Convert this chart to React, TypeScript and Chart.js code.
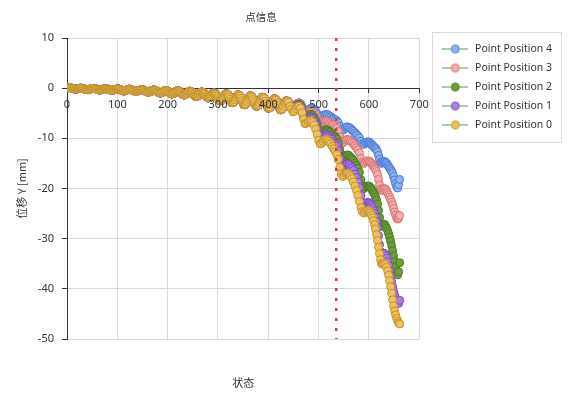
import React, { useEffect, useRef } from 'react';
import { Chart, registerables } from 'chart.js';

Chart.register(...registerables);

// ---------- data ----------
const statesEarly = [
  0, 2, 4, 6, 8, 10, 12, 14, 16, 18, 20, 22, 24, 26, 28, 30, 32, 34, 36, 38, 40, 42, 44, 46, 48,
  50, 52, 54, 56, 58, 60, 62, 64, 66, 68, 70, 72, 74, 76, 78, 80, 82, 84, 86, 88, 90, 92, 94, 96, 98,
  100, 102, 104, 106, 108, 110, 112, 114, 116, 118, 120, 122, 124, 126, 128, 130, 132, 134, 136, 138, 140, 142, 144, 146, 148,
  150, 152, 154, 156, 158, 160, 162, 164, 166, 168, 170, 172, 174, 176, 178, 180, 182, 184, 186, 188, 190, 192, 194, 196, 198,
  200, 202, 204, 206, 208, 210, 212, 214, 216, 218, 220, 222, 224, 226, 228, 230, 232, 234, 236, 238, 240, 242, 244, 246, 248,
  250, 252, 254, 256, 258, 260, 262, 264, 266, 268, 270, 272, 274, 276, 278, 280, 282, 284, 286, 288, 290, 292, 294, 296, 298,
  300, 302, 304, 306, 308, 310, 312, 314, 316, 318, 320, 322, 324, 326, 328, 330, 332, 334, 336, 338, 340, 342, 344, 346, 348,
  350, 352, 354, 356, 358, 360, 362, 364, 366, 368, 370, 372, 374, 376, 378, 380, 382, 384, 386, 388, 390, 392, 394, 396, 398,
  400, 402, 404, 406, 408, 410, 412, 414, 416, 418, 420, 422, 424, 426, 428, 430, 432, 434, 436, 438, 440,
];
const statesTail = [
  443, 446, 449, 452, 455, 458, 461, 464, 467, 470, 473, 476, 479, 482, 485, 488, 491, 494, 497, 500,
  503, 506, 509, 512, 515, 518, 521, 524, 527, 530, 533, 536, 539, 542, 545, 548, 551, 554, 557, 560,
  563, 566, 569, 572, 575, 578, 581, 584, 587, 590, 593, 596, 599,
  601, 603, 605, 607, 609, 611, 613, 615, 617, 619, 621, 623, 625, 627, 629, 631, 633, 635, 637, 639,
  641, 643, 645, 647, 649, 651, 653, 655, 657, 659, 661,
];

// shared displacement of all five points before they separate
const earlyY = [
  0, 0.06, 0.1, 0.09, 0.05, -0.02, -0.1, -0.17, -0.2, -0.19, -0.15, -0.1, -0.05, -0.01, 0, -0.02, -0.05, -0.12, -0.2, -0.27, -0.3, -0.29, -0.25, -0.17, -0.1,
  -0.06, -0.05, -0.07, -0.1, -0.17, -0.25, -0.31, -0.35, -0.34, -0.3, -0.22, -0.15, -0.11, -0.1, -0.12, -0.15, -0.22, -0.3, -0.39, -0.45, -0.44, -0.4, -0.32, -0.25, -0.18,
  -0.15, -0.16, -0.2, -0.3, -0.4, -0.49, -0.55, -0.54, -0.5, -0.4, -0.3, -0.23, -0.2, -0.24, -0.3, -0.4, -0.5, -0.6, -0.65, -0.64, -0.6, -0.5, -0.4, -0.33, -0.3,
  -0.31, -0.35, -0.47, -0.6, -0.72, -0.8, -0.79, -0.75, -0.63, -0.5, -0.4, -0.35, -0.38, -0.45, -0.6, -0.75, -0.88, -0.95, -0.94, -0.9, -0.76, -0.6, -0.5, -0.45, -0.48,
  -0.55, -0.72, -0.9, -1.05, -1.15, -1.13, -1.05, -0.88, -0.7, -0.57, -0.5, -0.55, -0.65, -0.85, -1.05, -1.23, -1.35, -1.33, -1.25, -1.05, -0.85, -0.69, -0.6, -0.67, -0.8,
  -1.05, -1.3, -1.52, -1.65, -1.62, -1.5, -1.25, -1.0, -0.83, -0.75, -0.82, -0.95, -1.22, -1.5, -1.76, -1.95, -1.92, -1.8, -1.53, -1.25, -1.05, -0.95, -1.02, -1.2, -1.53,
  -1.9, -2.25, -2.5, -2.5, -2.4, -2.02, -1.6, -1.3, -1.1, -1.15, -1.3, -1.72, -2.2, -2.6, -2.9, -2.86, -2.7, -2.32, -1.9, -1.55, -1.3, -1.38, -1.6, -2.03, -2.5,
  -2.95, -3.3, -3.26, -3.1, -2.66, -2.2, -1.8, -1.5, -1.6, -1.8, -2.3, -2.8, -3.25, -3.6, -3.56, -3.4, -2.95, -2.5, -2.1, -1.8, -1.88, -2.1, -2.6, -3.1, -3.6,
  -4.0, -3.96, -3.8, -3.3, -2.8, -2.4, -2.1, -2.18, -2.4, -2.9, -3.4, -3.9, -4.3, -4.25, -4.1, -3.6, -3.1, -2.75, -2.5, -2.58, -2.8,
];

const tailP4 = [
  -3.2, -3.7, -4.0, -3.8, -3.3, -3.0, -2.9, -3.1, -3.6, -4.3, -4.7, -4.6, -4.3, -4.1, -4.0, -4.1, -4.3, -4.6, -5.1, -5.7,
  -6.0, -5.8, -5.5, -5.3, -5.2, -5.3, -5.5, -5.7, -5.9, -6.1, -6.3, -6.5, -6.9, -7.6, -8.2, -8.4, -8.1, -7.8, -7.7, -7.8,
  -8.0, -8.3, -8.6, -8.9, -9.2, -9.5, -9.9, -10.6, -11.1, -11.2, -10.9, -10.7, -10.7,
  -10.8, -11.0, -11.2, -11.4, -11.6, -11.8, -12.0, -12.3, -12.7, -13.4, -14.2, -14.8, -15.0, -14.8, -14.6, -14.6, -14.8, -15.0, -15.3, -15.6,
  -15.9, -16.2, -16.6, -17.0, -17.6, -18.3, -19.0, -19.6, -19.9, -19.2, -18.2,
];
const tailP3 = [
  -3.3, -3.8, -4.2, -4.0, -3.5, -3.1, -3.0, -3.3, -3.9, -4.8, -5.3, -5.2, -4.9, -4.7, -4.6, -4.7, -5.0, -5.4, -6.0, -6.9,
  -7.3, -7.1, -6.8, -6.6, -6.5, -6.6, -6.8, -7.0, -7.2, -7.4, -7.7, -8.0, -8.6, -9.7, -10.6, -10.9, -10.6, -10.3, -10.2, -10.3,
  -10.5, -10.8, -11.1, -11.5, -11.9, -12.3, -12.9, -14.0, -14.8, -15.0, -14.7, -14.5, -14.5,
  -14.6, -14.8, -15.0, -15.3, -15.6, -15.9, -16.2, -16.6, -17.2, -18.2, -19.3, -20.1, -20.4, -20.2, -20.0, -20.0, -20.2, -20.5, -20.9, -21.3,
  -21.7, -22.2, -22.7, -23.3, -24.0, -24.7, -25.3, -25.8, -26.1, -25.9, -25.4,
];
const tailP2 = [
  -3.4, -3.9, -4.4, -4.2, -3.7, -3.3, -3.2, -3.5, -4.2, -5.3, -5.9, -5.8, -5.5, -5.3, -5.2, -5.4, -5.8, -6.3, -7.1, -8.3,
  -9.0, -8.9, -8.6, -8.4, -8.3, -8.4, -8.6, -8.8, -9.1, -9.4, -9.7, -10.1, -10.9, -12.3, -13.5, -14.0, -13.7, -13.4, -13.3, -13.4,
  -13.7, -14.0, -14.4, -14.9, -15.4, -16.0, -16.8, -18.3, -19.5, -20.0, -19.7, -19.5, -19.5,
  -19.6, -19.8, -20.1, -20.4, -20.8, -21.2, -21.7, -22.3, -23.1, -24.4, -25.8, -27.0, -27.5, -27.3, -27.1, -27.2, -27.5, -27.9, -28.4, -29.0,
  -29.7, -30.5, -31.4, -32.4, -33.5, -34.6, -35.6, -36.6, -37.2, -36.6, -34.8,
];
const tailP1 = [
  -3.5, -4.0, -4.5, -4.4, -3.9, -3.5, -3.4, -3.8, -4.6, -5.8, -6.5, -6.4, -6.1, -5.9, -5.9, -6.1, -6.6, -7.2, -8.1, -9.3,
  -10.0, -9.9, -9.6, -9.4, -9.3, -9.4, -9.6, -9.9, -10.2, -10.6, -11.0, -11.5, -12.4, -14.0, -15.3, -15.8, -15.5, -15.2, -15.1, -15.2,
  -15.5, -15.9, -16.4, -17.1, -17.8, -18.7, -19.8, -21.4, -22.8, -23.3, -23.0, -22.8, -22.8,
  -22.9, -23.2, -23.5, -23.9, -24.4, -25.0, -25.7, -26.6, -27.8, -29.4, -31.2, -32.6, -33.3, -33.1, -32.9, -33.0, -33.4, -33.9, -34.6, -35.4,
  -36.4, -37.5, -38.6, -39.6, -40.5, -41.3, -41.9, -42.4, -42.7, -42.9, -42.3,
];
const tailP0 = [
  -3.6, -4.2, -4.7, -4.6, -4.1, -3.7, -3.6, -4.0, -4.9, -6.2, -7.1, -7.0, -6.7, -6.5, -6.5, -6.8, -7.4, -8.2, -9.2, -10.4,
  -11.1, -11.0, -10.6, -10.3, -10.2, -10.4, -10.7, -11.1, -11.6, -12.1, -12.6, -13.2, -14.2, -15.8, -17.1, -17.6, -17.3, -17.0, -16.9, -17.1,
  -17.5, -18.0, -18.7, -19.5, -20.4, -21.4, -22.6, -23.8, -24.6, -24.9, -24.6, -24.4, -24.4,
  -24.6, -24.9, -25.3, -25.8, -26.4, -27.2, -28.1, -29.2, -30.4, -31.7, -33.0, -34.2, -35.0, -35.1, -34.9, -34.9, -35.2, -35.7, -36.4, -37.3,
  -38.4, -39.6, -40.9, -42.2, -43.4, -44.4, -45.2, -45.9, -46.4, -46.8, -47.0,
];

const seriesLabels = ['Point Position 0', 'Point Position 1', 'Point Position 2', 'Point Position 3', 'Point Position 4'];
const seriesTails = [tailP0, tailP1, tailP2, tailP3, tailP4];
const legendOrder = [4, 3, 2, 1, 0];

const markerState = 535; // red dotted reference state
const xTicks = [0, 100, 200, 300, 400, 500, 600, 700];
const yTicks = [10, 0, -10, -20, -30, -40, -50];

// ---------- styles ----------
const fills = ['#efc261', '#aa80e4', '#6f9c3c', '#f3afaf', '#8fb1ec'];
const strokes = ['#c2922c', '#7d46c6', '#4a7a22', '#d97070', '#4a7ad8'];
const LINE = '#3aaa35';
const INK = '#333333';
const GRID = '#d9d9d9';
const LATIN = '"Noto Sans", sans-serif';
const CJK = '"Noto Sans CJK SC", "Noto Sans", sans-serif';

function legendIcon(fill: string, stroke: string) {
  const c = document.createElement('canvas');
  c.width = 26;
  c.height = 11;
  const g = c.getContext('2d')!;
  g.strokeStyle = LINE;
  g.lineWidth = 1;
  g.beginPath();
  g.moveTo(0, 5.5);
  g.lineTo(26, 5.5);
  g.stroke();
  g.beginPath();
  g.arc(13, 5.5, 4, 0, Math.PI * 2);
  g.fillStyle = fill;
  g.fill();
  g.strokeStyle = stroke;
  g.stroke();
  return c;
}

export default function App() {
  const ref = useRef<HTMLCanvasElement>(null);

  useEffect(() => {
    const canvas = ref.current;
    if (!canvas) return;
    const states = [...statesEarly, ...statesTail];
    const icons = fills.map((f, i) => legendIcon(f, strokes[i]));

    const datasets: any[] = seriesTails.map((tail, i) => {
      const ys = [...earlyY, ...tail];
      return {
        label: seriesLabels[i],
        data: states.map((x, k) => ({ x, y: ys[k] })),
        showLine: true,
        borderColor: LINE,
        borderWidth: 1,
        backgroundColor: fills[i],
        pointBackgroundColor: fills[i],
        pointBorderColor: strokes[i],
        pointBorderWidth: 1,
        pointRadius: 4,
        tension: 0,
        order: 0,
      };
    });
    datasets.push({
      label: 'marker',
      data: [
        { x: markerState, y: yTicks[0] },
        { x: markerState, y: yTicks[yTicks.length - 1] },
      ],
      showLine: true,
      borderColor: '#e0393a',
      borderWidth: 2.5,
      borderDash: [3, 7],
      pointRadius: 0,
      order: -1,
    });

    const tweak = {
      id: 'tweak',
      afterLayout(chart: any) {
        const lg = chart.legend;
        if (lg) {
          const w = lg.width;
          const h = lg.height;
          lg.left = chart.chartArea.right + 13;
          lg.right = lg.left + w;
          lg.top = chart.chartArea.top - 2.75;
          lg.bottom = lg.top + h;
        }
        const t = chart.titleBlock;
        if (t) {
          t.left = 0;
          t.right = 522;
        }
      },
      afterDraw(chart: any) {
        const lg = chart.legend;
        if (!lg) return;
        const c = chart.ctx;
        c.save();
        c.strokeStyle = GRID;
        c.lineWidth = 1;
        c.strokeRect(Math.round(lg.left) + 0.5, Math.round(lg.top - 3.25) + 0.5, 129, 110);
        c.restore();
      },
    };

    const chart = new Chart(canvas, {
      type: 'line',
      data: { datasets },
      plugins: [tweak],
      options: {
        animation: false,
        responsive: false,
        events: [],
        layout: { padding: { left: 0, right: 21, top: 0, bottom: 0 } },
        font: { family: LATIN, size: 11 },
        plugins: {
          title: {
            display: true,
            text: '点信息',
            color: INK,
            font: { family: CJK, size: 10.5, weight: 'normal' },
            padding: { top: 10.7, bottom: 14.7 },
          },
          legend: {
            display: true,
            position: 'right',
            align: 'start',
            onClick: () => {},
            labels: {
              usePointStyle: true,
              pointStyleWidth: 29,
              padding: 8.5,
              color: INK,
              font: { family: LATIN, size: 10.5 },
              generateLabels: () =>
                legendOrder.map((i) => ({
                  text: seriesLabels[i],
                  pointStyle: icons[i],
                  fillStyle: fills[i],
                  strokeStyle: strokes[i],
                  lineWidth: 1,
                  hidden: false,
                  datasetIndex: i,
                  fontColor: INK,
                })),
            },
          },
          tooltip: { enabled: false },
        },
        scales: {
          x: {
            type: 'linear',
            min: xTicks[0],
            max: xTicks[xTicks.length - 1],
            position: { y: 0 },
            afterBuildTicks: (s: any) => {
              s.ticks = xTicks.map((v) => ({ value: v }));
            },
            ticks: { padding: 6, color: INK, font: { family: LATIN, size: 11 }, z: 1, maxRotation: 0, autoSkip: false },
            grid: { color: GRID, tickColor: INK, tickLength: 4 },
            border: { color: INK, width: 1 },
          },
          xTitle: {
            type: 'linear',
            axis: 'x',
            position: 'bottom',
            min: 0,
            max: 700,
            display: true,
            ticks: { display: false },
            grid: { display: false, drawTicks: false },
            border: { display: false },
            title: {
              display: true,
              text: '状态',
              color: INK,
              font: { family: CJK, size: 11 },
              padding: { top: 37.4, bottom: 9.4 },
            },
          },
          y: {
            type: 'linear',
            position: 'left',
            min: yTicks[yTicks.length - 1],
            max: yTicks[0],
            afterBuildTicks: (s: any) => {
              s.ticks = [...yTicks].reverse().map((v) => ({ value: v }));
            },
            afterFit: (s: any) => {
              s.width = 67;
            },
            ticks: { padding: 8, color: INK, font: { family: LATIN, size: 11 } },
            grid: { color: GRID, tickColor: INK, tickLength: 5 },
            border: { color: INK, width: 1 },
            title: {
              display: true,
              text: '位移 Y [mm]',
              color: INK,
              font: { family: CJK, size: 11 },
              padding: { top: 15.4, bottom: 0 },
            },
          },
        },
      } as any,
    });
    return () => chart.destroy();
  }, []);

  return (
    <div style={{ position: 'fixed', left: 0, top: 0, width: 570, height: 399, background: '#ffffff' }}>
      <canvas ref={ref} width={570} height={399} style={{ display: 'block', width: 570, height: 399 }} />
    </div>
  );
}
